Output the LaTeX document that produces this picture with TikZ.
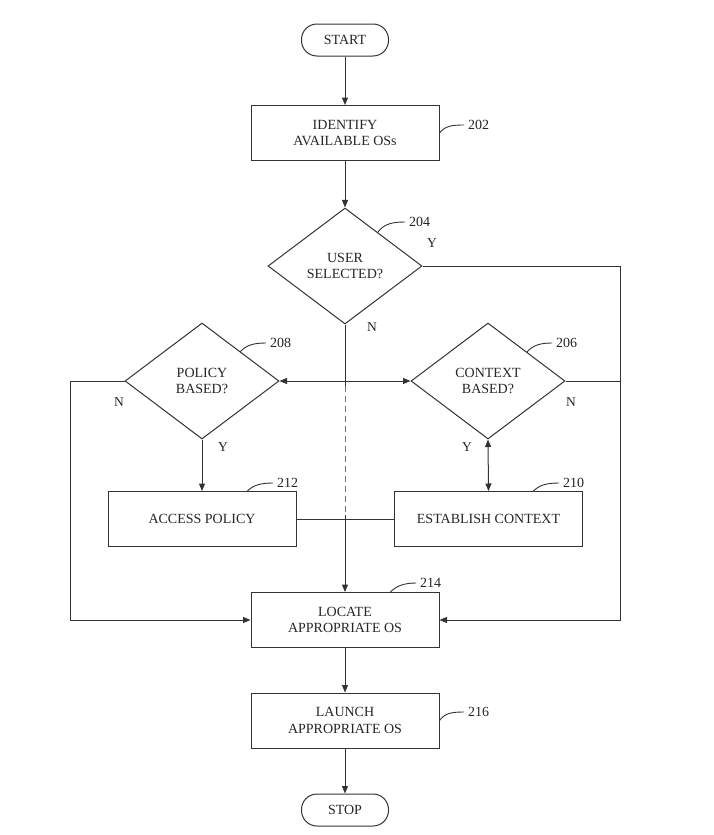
\documentclass[tikz,border=0pt]{standalone}
\usepackage{fontspec}
\setmainfont{Liberation Serif}
\usetikzlibrary{shapes.geometric,arrows.meta}
\begin{document}
\begin{tikzpicture}[x=1pt,y=-1pt,
  every node/.style={font=\fontsize{14}{16.8}\selectfont, text=black!85},
  ln/.style={draw=black!80, line width=1pt},
  arr/.style={ln, -{Triangle[length=7.5pt,width=6pt]}},
  darr/.style={ln, {Triangle[length=7.5pt,width=6pt]}-{Triangle[length=7.5pt,width=6pt]}},
  procbox/.style={draw=black!80, line width=1pt, rectangle, minimum width=188pt, minimum height=55pt, align=center, inner sep=0pt},
  termbox/.style={draw=black!80, line width=1pt, rectangle, rounded corners=15.5pt, minimum width=87pt, minimum height=32pt, inner sep=0pt},
  decbox/.style={draw=black!80, line width=1pt, diamond, aspect=1.33, minimum width=154pt, minimum height=116pt, inner sep=0pt, align=center},
  yn/.style={font=\fontsize{13.5}{15}\selectfont},
  refnum/.style={font=\fontsize{14}{15}\selectfont, anchor=west, inner sep=0pt},
  leader/.style={draw=black!80, line width=0.9pt}
]
\useasboundingbox (0,0) rectangle (713,835);
\fill[white] (0,0) rectangle (713,835);

% nodes
\node[termbox] (start) at (345,40) {START};
\node[procbox] (identify) at (345,133) {IDENTIFY\\AVAILABLE OSs};
\node[decbox] (user) at (345,266) {USER\\SELECTED?};
\node[decbox] (policy) at (202,381) {POLICY\\BASED?};
\node[decbox] (context) at (488,381) {CONTEXT\\BASED?};
\node[procbox] (access) at (202,519) {ACCESS POLICY};
\node[procbox] (establish) at (488.5,519) {ESTABLISH CONTEXT};
\node[procbox] (locate) at (345,620) {LOCATE\\APPROPRIATE OS};
\node[procbox] (launch) at (345,720.5) {LAUNCH\\APPROPRIATE OS};
\node[termbox] (stop) at (345,810) {STOP};

% helper coordinates
\coordinate (rtop) at (620,266);
\coordinate (rbot) at (620,620);
\coordinate (ltop) at (70,381);
\coordinate (lbot) at (70,620);
\coordinate (dashA) at (345,386);
\coordinate (dashB) at (345,515);

% connectors
\draw[arr] (start) -- (identify);
\draw[arr] (identify) -- (user);
\draw[arr] (user.east) -- (rtop) -- (rbot) -- (locate.east);
\draw[ln] (context.east) -- (context.east -| rtop);
\draw[arr] (policy.west) -- (ltop) -- (lbot) -- (locate.west);
\draw[darr] (policy.east) -- (context.west);
\draw[arr] (policy.south) -- (access.north);
\draw[darr] (context.south) -- (establish.north);
\draw[ln] (access.east) -- (establish.west);
\draw[ln] (user.south) -- (dashA);
\draw[draw=black!55, line width=1pt, dash pattern=on 6pt off 4pt] (dashA) -- (dashB);
\draw[arr] (dashB) -- (locate.north);
\draw[arr] (locate) -- (launch);
\draw[arr] (launch) -- (stop);

% Y / N labels
\node[yn] (uy) at (432,243) {Y};
\node[yn] (un) at (372,327) {N};
\node[yn] (pn) at (119,402) {N};
\node[yn] (py) at (223,447) {Y};
\node[yn] (cy) at (467,447) {Y};
\node[yn] (cn) at (571,402) {N};

% reference numerals with leaders
\node[refnum] (n202) at (468,125) {202};
\draw[leader] (identify.east) .. controls (445,126) and (452,125) .. ([xshift=-4pt]n202.west);
\node[refnum] (n204) at (409,222) {204};
\draw[leader] (378,232) .. controls (384,224) and (392,222) .. ([xshift=-4pt]n204.west);
\node[refnum] (n208) at (270,343) {208};
\draw[leader] (240,352) .. controls (246,345) and (254,343) .. ([xshift=-4pt]n208.west);
\node[refnum] (n206) at (556,343) {206};
\draw[leader] (527,352) .. controls (533,345) and (541,343) .. ([xshift=-4pt]n206.west);
\node[refnum] (n212) at (277,483) {212};
\draw[leader] (247,491.5) .. controls (253,485) and (261,483) .. ([xshift=-4pt]n212.west);
\node[refnum] (n210) at (563,483) {210};
\draw[leader] (533,491.5) .. controls (539,485) and (547,483) .. ([xshift=-4pt]n210.west);
\node[refnum] (n214) at (420,583) {214};
\draw[leader] (390,592.5) .. controls (396,586) and (404,583) .. ([xshift=-4pt]n214.west);
\node[refnum] (n216) at (468,712) {216};
\draw[leader] (launch.east) .. controls (445,713) and (452,712) .. ([xshift=-4pt]n216.west);
\end{tikzpicture}
\end{document}
